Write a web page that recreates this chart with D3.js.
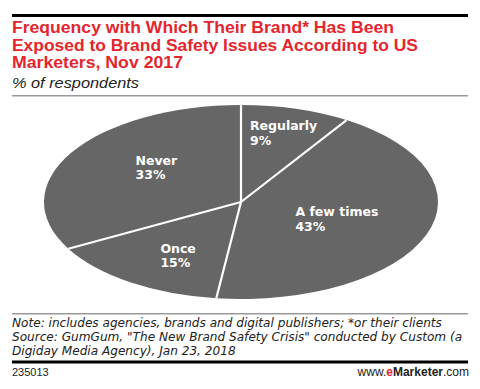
<!DOCTYPE html>
<html>
<head>
<meta charset="utf-8">
<script src="https://cdn.jsdelivr.net/npm/d3@7"></script>
<style>
  html, body { margin: 0; padding: 0; background: #fff; }
  svg { display: block; }
</style>
</head>
<body>
<div id="chart"></div>
<script>
// ---- data ----
const categories = ["Regularly", "A few times", "Once", "Never"];
const values = [9, 43, 15, 33];
const titleLines = [
  "Frequency with Which Their Brand* Has Been",
  "Exposed to Brand Safety Issues According to US",
  "Marketers, Nov 2017"
];
const subtitle = "% of respondents";
const noteLines = [
  "Note: includes agencies, brands and digital publishers; *or their clients",
  "Source: GumGum, \"The New Brand Safety Crisis\" conducted by Custom (a",
  "Digiday Media Agency), Jan 23, 2018"
];
const chartId = "235013";

// ---- layout ----
const W = 480, H = 389;
const svg = d3.select("#chart").append("svg").attr("width", W).attr("height", H);
const SANS = "'Liberation Sans', Arial, sans-serif";
const WIDE = "'DejaVu Sans', Verdana, sans-serif";

function fitSize(sel, node, target) {
  const base = +sel.attr("font-size");
  const w = node.getComputedTextLength();
  sel.attr("font-size", (base * target / w).toFixed(2));
}

// top rule
svg.append("rect").attr("x", 12).attr("y", 14).attr("width", 456).attr("height", 3).attr("fill", "#000");

// title (bold, horizontally widened to match the original face)
const titleWidths = [382, 406, 171];
const title = svg.append("text").attr("font-family", SANS).attr("font-weight", "bold")
  .attr("font-size", 16).attr("fill", "#e3262d");
titleLines.forEach((t, i) => {
  title.append("tspan").attr("x", 12).attr("y", 33 + i * 17.5)
    .attr("textLength", titleWidths[i]).attr("lengthAdjust", "spacingAndGlyphs").text(t);
});

const sub = svg.append("text").attr("x", 12).attr("y", 88).attr("font-family", SANS)
  .attr("font-style", "italic").attr("font-size", 15).attr("fill", "#222")
  .attr("textLength", 127).attr("lengthAdjust", "spacingAndGlyphs").text(subtitle);

// subtitle rule
svg.append("rect").attr("x", 12).attr("y", 95).attr("width", 456).attr("height", 1.5).attr("fill", "#999");

// ---- pie (ellipse) ----
const cx = 241, cy = 202, rx = 197, ry = 97;
const pie = d3.pie().sort(null).value(d => d.value);
const data = categories.map((c, i) => ({ name: c, value: values[i] }));
const arcs = pie(data);
const arc = d3.arc().innerRadius(0).outerRadius(rx);

const g = svg.append("g").attr("transform", `translate(${cx},${cy})`);
g.append("g").attr("transform", `scale(1,${ry / rx})`)
  .selectAll("path").data(arcs).join("path")
  .attr("d", arc).attr("fill", "#666");

// separators
const ex = a => Math.sin(a) * rx, ey = a => -Math.cos(a) * ry;
g.selectAll("line.sep").data(arcs).join("line").attr("class", "sep")
  .attr("x1", 0).attr("y1", 0)
  .attr("x2", d => ex(d.startAngle)).attr("y2", d => ey(d.startAngle))
  .attr("stroke", "#fff").attr("stroke-width", 2.2);

// label placement (layout): radial fraction and angular nudge (degrees) per slice
const labelPlace = {
  "Regularly":   { r: 0.748, da: 0.6 },
  "A few times": { r: 0.516, da: -0.5 },
  "Once":        { r: 0.633, da: -3.9 },
  "Never":       { r: 0.561, da: 9.4 }
};
const lab = g.selectAll("text.lab").data(arcs).join("text").attr("class", "lab")
  .attr("font-family", WIDE).attr("font-weight", "bold").attr("font-size", 12.5)
  .attr("fill", "#fff");
lab.append("tspan").attr("class", "l1").text(d => d.data.name);
lab.append("tspan").attr("class", "l2").text(d => d.data.value + "%");
lab.each(function(d) {
  const t = d3.select(this);
  const w = Math.max(t.select(".l1").node().getComputedTextLength(),
                     t.select(".l2").node().getComputedTextLength());
  const p = labelPlace[d.data.name];
  const a = (d.startAngle + d.endAngle) / 2 + p.da * Math.PI / 180;
  const px = ex(a) * p.r, py = ey(a) * p.r;
  const x0 = px - w / 2;
  t.select(".l1").attr("x", x0).attr("y", py - 2.5);
  t.select(".l2").attr("x", x0).attr("y", py + 12);
});

// ---- footer ----
svg.append("rect").attr("x", 12).attr("y", 313).attr("width", 456).attr("height", 1.5).attr("fill", "#999");
const note = svg.append("text").attr("font-family", WIDE).attr("font-style", "italic")
  .attr("font-size", 12).attr("fill", "#222");
noteLines.forEach((t, i) => note.append("tspan").attr("x", 12).attr("y", 327 + i * 14).text(t));
fitSize(note, note.select("tspan").node(), 430);
svg.append("rect").attr("x", 12).attr("y", 360.5).attr("width", 456).attr("height", 3).attr("fill", "#000");
svg.append("text").attr("x", 12).attr("y", 376).attr("font-family", SANS)
  .attr("font-size", 11).attr("fill", "#222").text(chartId);
const brand = svg.append("text").attr("x", 469).attr("y", 376).attr("text-anchor", "end")
  .attr("font-family", SANS).attr("font-size", 12).attr("fill", "#222");
brand.append("tspan").text("www.");
brand.append("tspan").attr("fill", "#e3262d").attr("font-weight", "bold").text("e");
brand.append("tspan").attr("font-weight", "bold").text("Marketer");
brand.append("tspan").text(".com");
</script>
</body>
</html>
